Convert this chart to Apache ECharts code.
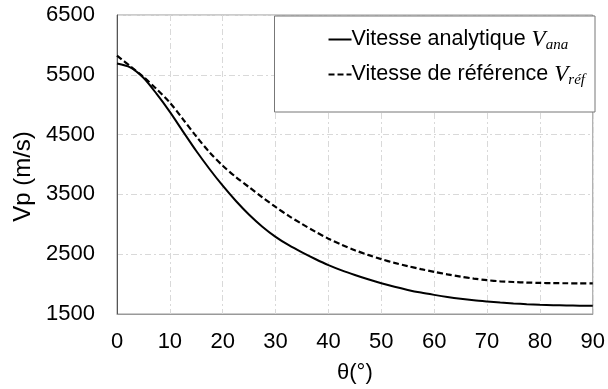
<!DOCTYPE html>
<html>
<head>
<meta charset="utf-8">
<script src="https://cdn.jsdelivr.net/npm/echarts@6/dist/echarts.min.js"></script>
<style>html,body{margin:0;padding:0;background:#fff;}#c{width:608px;height:389px;}</style>
</head>
<body>
<div id="c"></div>
<script>
// angle θ in degrees
var theta = [0, 2.5, 5, 7.5, 10, 12.5, 15, 17.5, 20, 22.5, 25, 27.5, 30, 32.5, 35, 37.5, 40, 42.5, 45, 47.5, 50,
             52.5, 55, 57.5, 60, 62.5, 65, 67.5, 70, 72.5, 75, 77.5, 80, 82.5, 85, 87.5, 90];
// Vitesse analytique V_ana (m/s)
var vAna = [5690, 5625, 5450, 5180, 4880, 4550, 4225, 3925, 3645, 3390, 3160, 2960, 2790, 2650, 2530, 2420, 2318, 2230, 2152, 2080, 2014,
            1955, 1903, 1858, 1820, 1785, 1755, 1730, 1710, 1692, 1677, 1664, 1654, 1648, 1643, 1640, 1638];
// Vitesse de référence V_réf (m/s)
var vRef = [5820, 5645, 5465, 5260, 5035, 4755, 4470, 4205, 3980, 3790, 3620, 3452, 3290, 3140, 3005, 2878, 2760, 2658, 2566, 2488, 2417,
            2355, 2300, 2250, 2205, 2163, 2125, 2092, 2065, 2047, 2035, 2026, 2020, 2016, 2014, 2013, 2012];
var xTicks = [0, 10, 20, 30, 40, 50, 60, 70, 80, 90];
var yTicks = [1500, 2500, 3500, 4500, 5500, 6500];
var nameAna = 'Vitesse analytique Vana';
var nameRef = 'Vitesse de référence Vréf';

function pairs(xs, ys) { return xs.map(function (x, i) { return [x, ys[i]]; }); }

var chart = echarts.init(document.getElementById('c'), null, { renderer: 'canvas' });
var font = 'Liberation Sans, Arial, sans-serif';
var serif = 'Liberation Serif, Times New Roman, serif';
chart.setOption({
  animation: false,
  backgroundColor: '#fff',
  grid: { left: 117, right: 12, top: 15, bottom: 73, show: true, borderColor: '#999', borderWidth: 1 },
  xAxis: {
    type: 'value', min: xTicks[0], max: xTicks[xTicks.length - 1], interval: 10,
    name: 'θ(°)', nameLocation: 'middle', nameGap: 48,
    nameTextStyle: { fontFamily: font, fontSize: 22, color: '#000' },
    axisLine: { show: true, lineStyle: { color: '#999', width: 1 } },
    axisTick: { show: false },
    axisLabel: { fontFamily: font, fontSize: 22, color: '#000', margin: 17, formatter: function (v) { return String(v); } },
    splitLine: { show: true, lineStyle: { color: '#d9d9d9', type: [6, 3, 2, 3], width: 1 } }
  },
  yAxis: {
    type: 'value', min: yTicks[0], max: yTicks[yTicks.length - 1], interval: 1000,
    name: 'Vp (m/s)', nameLocation: 'middle', nameGap: 79, nameRotate: 90,
    nameTextStyle: { fontFamily: font, fontSize: 24, color: '#000', padding: [0, 24, 0, 0] },
    axisLine: { show: true, lineStyle: { color: '#555', width: 1 } },
    axisTick: { show: false },
    axisLabel: { fontFamily: font, fontSize: 22, color: '#000', margin: 22, formatter: function (v) { return String(v); } },
    splitLine: { show: true, lineStyle: { color: '#d9d9d9', type: [6, 3, 2, 3], width: 1 } }
  },
  legend: {
    orient: 'vertical', right: 13, top: 16,
    backgroundColor: '#fff', borderColor: '#777', borderWidth: 1,
    padding: [10, 10, 24, 53], itemGap: 8, itemWidth: 23, itemHeight: 14,
    itemStyle: { opacity: 0 },
    data: [nameAna, nameRef],
    formatter: function (n) {
      return n === nameAna ? '{t|Vitesse analytique }{v|V}{s|ana}' : '{t|Vitesse de référence }{v|V}{s|réf}';
    },
    textStyle: {
      padding: [0, 0, 0, -5],
      rich: {
        t: { fontFamily: font, fontSize: 21.5, color: '#000', lineHeight: 27, verticalAlign: 'middle' },
        v: { fontFamily: serif, fontStyle: 'italic', fontSize: 23, color: '#000', lineHeight: 27, verticalAlign: 'middle' },
        s: { fontFamily: serif, fontStyle: 'italic', fontSize: 15, color: '#000', lineHeight: 27, verticalAlign: 'middle', padding: [12, 0, 0, 0] }
      }
    }
  },
  series: [
    { name: nameAna, type: 'line', data: pairs(theta, vAna), smooth: 0.3, showSymbol: false, symbol: 'none',
      lineStyle: { color: '#000', width: 2 }, itemStyle: { color: '#000' } },
    { name: nameRef, type: 'line', data: pairs(theta, vRef), smooth: 0.3, showSymbol: false, symbol: 'none',
      lineStyle: { color: '#000', width: 2.2, type: [6, 3] }, itemStyle: { color: '#000' } }
  ]
});
</script>
</body>
</html>
